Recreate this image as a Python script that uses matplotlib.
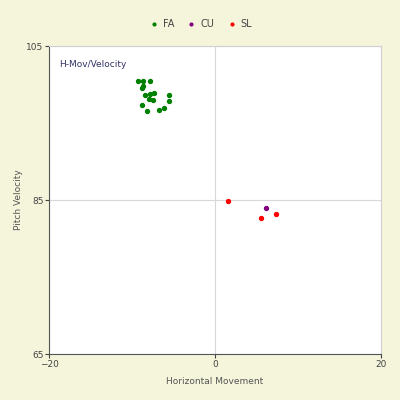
import matplotlib.pyplot as plt

# Pitch data: horizontal movement, velocity
fa_x = [-9.3, -8.7, -7.8, -8.7, -8.8, -8.4, -7.8, -7.4, -5.6, -8.0, -7.5, -5.5, -8.8, -8.2, -6.8, -6.1]
fa_y = [100.5, 100.5, 100.5, 99.8, 99.6, 98.7, 98.8, 98.9, 98.7, 98.1, 98.0, 97.9, 97.3, 96.6, 96.7, 96.9]
cu_x = [6.2]
cu_y = [83.9]
sl_x = [1.6, 5.5, 7.4]
sl_y = [84.9, 82.7, 83.2]

bg = '#f5f5dc'
fig = plt.figure(figsize=(4, 4), dpi=100, facecolor=bg)
ax = fig.add_axes([0.1225, 0.115, 0.83, 0.77])
ax.set_facecolor('white')

ax.scatter(fa_x, fa_y, s=8, color='#008000', label='FA', zorder=3)
ax.scatter(cu_x, cu_y, s=8, color='#800080', label='CU', zorder=3)
ax.scatter(sl_x, sl_y, s=8, color='#ff0000', label='SL', zorder=3)

ax.set_xlim(-20, 20)
ax.set_ylim(65, 105)
ax.set_xticks([-20, 0, 20])
ax.set_yticks([65, 85, 105])
ax.grid(True, color='#d8d8d8', linewidth=0.8)
ax.set_axisbelow(True)

for side in ['top', 'right']:
    ax.spines[side].set_color('#d0d0d0')
for side in ['left', 'bottom']:
    ax.spines[side].set_color('#555555')
ax.tick_params(labelsize=6.5, colors='#444444', length=3, width=0.8, pad=1)

ax.set_xlabel('Horizontal Movement', fontsize=6.5, color='#555555', labelpad=6)
ax.set_ylabel('Pitch Velocity', fontsize=6.5, color='#555555', labelpad=2)
ax.text(0.03, 0.955, 'H-Mov/Velocity', transform=ax.transAxes, fontsize=6.5,
        color='#333366', va='top')

fig.legend(loc='upper center', bbox_to_anchor=(0.5, 0.975), ncol=3, frameon=False,
           fontsize=7, handletextpad=0.3, columnspacing=1.2, markerscale=0.7,
           handlelength=1.2, labelcolor='#444444')

plt.savefig('out.png', dpi=100, facecolor=bg)
